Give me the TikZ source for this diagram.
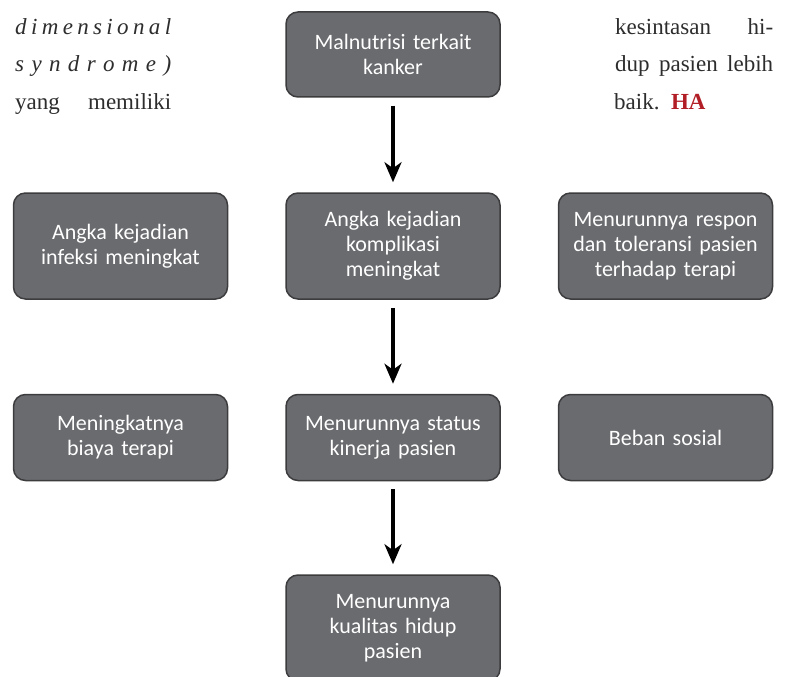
\documentclass[tikz,border=0pt]{standalone}
\usepackage{fontspec}
\setmainfont{Liberation Serif}
\newfontfamily\boxfont{Carlito}
\usetikzlibrary{arrows.meta,positioning}
\definecolor{abuabu}{RGB}{106,107,111}
\definecolor{garis}{RGB}{60,60,62}
\definecolor{teks}{RGB}{45,45,45}
\definecolor{merah}{RGB}{178,30,38}

\begin{document}
\begin{tikzpicture}[x=1pt, y=-1pt,
  blok/.style={rectangle, rounded corners=12pt, draw=garis, line width=1.5pt,
    fill=abuabu, text=white, font=\boxfont\fontsize{22}{25}\selectfont,
    align=center, text width=206pt, minimum width=214pt, inner sep=0pt},
  panah/.style={-{Stealth[length=20pt, width=17pt, inset=6pt]}, line width=4pt,
    shorten <=8pt, shorten >=10pt},
  paragraf/.style={anchor=base west, inner sep=0pt, text=teks,
    font=\fontsize{23}{37}\selectfont}
]
  \clip (0,0) rectangle (788,677);

  % potongan teks halaman
  \node[paragraf] (kiri1) at (15,35)
    {\makebox[156pt][s]{\itshape d\hfill i\hfill m\hfill e\hfill n\hfill s\hfill i\hfill o\hfill n\hfill a\hfill l}};
  \node[paragraf] (kiri2) at (15,72)
    {\makebox[156pt][s]{\itshape s\hfill y\hfill n\hfill d\hfill r\hfill o\hfill m\hfill e\hfill )}};
  \node[paragraf] (kiri3) at (15,110) {\makebox[156pt][s]{yang\hfill memiliki}};
  \node[paragraf] (kanan1) at (615,35) {\makebox[158pt][s]{kesintasan\hfill hi-}};
  \node[paragraf] (kanan2) at (615,72) {\makebox[158pt][s]{dup\hfill pasien\hfill lebih}};
  \node[paragraf] (kanan3) at (614,110) {baik.\ \ \textcolor{merah}{\textbf{HA}}};

  % kolom tengah
  \node[blok, minimum height=85pt] (malnutrisi) at (393,54.5) {Malnutrisi terkait\\kanker};
  \node[blok, minimum height=106pt] (komplikasi) at (393,246)
    {Angka kejadian\\komplikasi\\meningkat};
  \node[blok, minimum height=86pt] (kinerja) at (393,437.5)
    {Menurunnya status\\kinerja pasien};
  \node[blok, minimum height=106pt] (kualitas) at (393,628)
    {Menurunnya\\kualitas hidup\\pasien};

  % kotak samping
  \node[blok, minimum height=106pt, left=57pt of komplikasi] (infeksi)
    {Angka kejadian\\infeksi meningkat};
  \node[blok, minimum height=106pt, right=57pt of komplikasi] (respon)
    {Menurunnya respon\\dan toleransi pasien\\terhadap terapi};
  \node[blok, minimum height=86pt, left=57pt of kinerja] (biaya)
    {Meningkatnya\\biaya terapi};
  \node[blok, minimum height=86pt, right=57pt of kinerja] (sosial) {Beban sosial};

  % panah
  \draw[panah] (malnutrisi) -- (komplikasi);
  \draw[panah] (komplikasi) -- (kinerja);
  \draw[panah] (kinerja) -- (kualitas);
\end{tikzpicture}
\end{document}
